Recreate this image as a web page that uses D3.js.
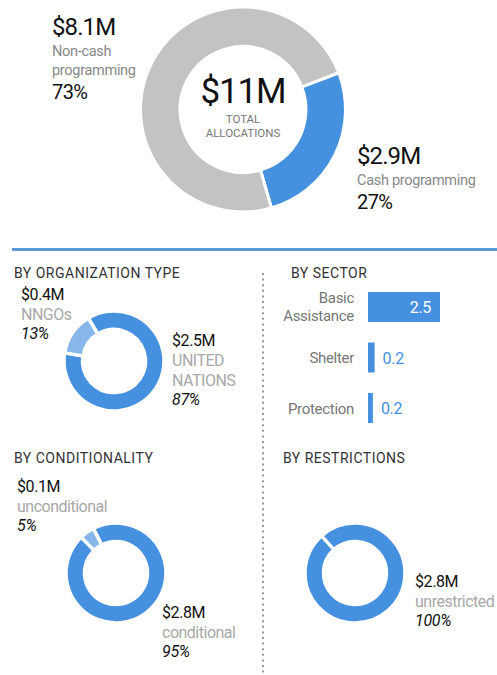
<!DOCTYPE html>
<html>
<head>
<meta charset="utf-8">
<script src="https://cdn.jsdelivr.net/npm/d3@7"></script>
<style>
  body { margin: 0; background: #fff; font-family: Roboto, "Noto Sans", sans-serif; }
  svg text { font-family: Roboto, "Noto Sans", sans-serif; }
</style>
</head>
<body>
<svg id="chart" width="497" height="675"></svg>
<script>
// data
const totalLabel = "$11M";
const cashNames = ["Cash programming", "Non-cash programming"];
const cashValues = [2.9, 8.1];
const cashPct = ["27%", "73%"];

const orgNames = ["UNITED NATIONS", "NNGOs"];
const orgValues = [2.5, 0.4];
const orgPct = ["87%", "13%"];

const sectorNames = ["Basic Assistance", "Shelter", "Protection"];
const sectorValues = [2.5, 0.23, 0.17];

const condNames = ["conditional", "unconditional"];
const condValues = [2.8, 0.14];
const condPct = ["95%", "5%"];

const restrNames = ["unrestricted"];
const restrValues = [2.8];
const restrPct = ["100%"];

const BLUE = "#4590df", LIGHT = "#86b6ea", GREY = "#c3c3c3";
const svg = d3.select("#chart");
const money = v => `$${d3.format(".1f")(v)}M`;
const deg = a => a * Math.PI / 180;

function donut(cx, cy, rOuter, rInner, values, colors, start, sep) {
  const pie = d3.pie().sort(null).startAngle(deg(start)).endAngle(deg(start) + 2 * Math.PI);
  const arc = d3.arc().innerRadius(rInner).outerRadius(rOuter);
  const g = svg.append("g").attr("transform", `translate(${cx},${cy})`);
  g.selectAll("path").data(pie(values)).join("path")
    .attr("d", arc)
    .attr("fill", (d, i) => colors[i])
    .attr("stroke", "#fff")
    .attr("stroke-width", sep);
  if (values.length === 1) {
    // start marker on a full ring
    const a = deg(start);
    g.append("line")
      .attr("x1", Math.sin(a) * (rInner - 1)).attr("y1", -Math.cos(a) * (rInner - 1))
      .attr("x2", Math.sin(a) * (rOuter + 1)).attr("y2", -Math.cos(a) * (rOuter + 1))
      .attr("stroke", "#fff").attr("stroke-width", sep);
  }
}

function label(x, y, lines) {
  const g = svg.append("g");
  lines.forEach(l => {
    g.append("text")
      .attr("x", x).attr("y", y + l.dy)
      .attr("font-size", l.size)
      .attr("fill", l.color)
      .attr("font-style", l.italic ? "italic" : "normal")
      .attr("letter-spacing", l.ls || 0)
      .text(l.text);
  });
}

function smallLabel(x, y, value, nameLines, pct) {
  const lines = [{ text: money(value), size: 16, color: "#111", dy: 0, ls: -0.4 }];
  nameLines.forEach((n, i) => lines.push({ text: n, size: 16, color: "#a8a8a8", dy: 20 * (i + 1), ls: -0.5 }));
  lines.push({ text: pct, size: 16, color: "#111", italic: true, dy: 20 * (nameLines.length + 1) - 1, ls: -0.3 });
  label(x, y, lines);
}

// ---- main donut
donut(243, 109.5, 102.5, 63, cashValues, [BLUE, GREY], 69, 3);

svg.append("text").attr("x", 243).attr("y", 103).attr("text-anchor", "middle")
  .attr("font-size", 35).attr("fill", "#111").attr("letter-spacing", -1.2).text(totalLabel);
svg.append("text").attr("x", 243).attr("y", 123).attr("text-anchor", "middle")
  .attr("font-size", 11.5).attr("fill", "#777").text("TOTAL");
svg.append("text").attr("x", 243).attr("y", 137).attr("text-anchor", "middle")
  .attr("font-size", 11.5).attr("fill", "#777").text("ALLOCATIONS");

label(52, 35, [
  { text: money(cashValues[1]), size: 24, color: "#111", dy: 0, ls: -0.9 },
  { text: "Non-cash", size: 14.5, color: "#888", dy: 21, ls: -0.3 },
  { text: "programming", size: 14.5, color: "#888", dy: 40, ls: -0.3 },
  { text: cashPct[1], size: 20, color: "#111", dy: 64, ls: -0.6 }
]);
label(357, 164, [
  { text: money(cashValues[0]), size: 24, color: "#111", dy: 0, ls: -0.9 },
  { text: cashNames[0], size: 14.5, color: "#888", dy: 21, ls: -0.3 },
  { text: cashPct[0], size: 20, color: "#111", dy: 45, ls: -0.6 }
]);

// separator lines
svg.append("rect").attr("x", 12).attr("y", 248).attr("width", 485).attr("height", 3).attr("fill", "#5a9ad8");
svg.append("line").attr("x1", 263).attr("x2", 263).attr("y1", 273).attr("y2", 675)
  .attr("stroke", "#999").attr("stroke-width", 2).attr("stroke-dasharray", "2,3.6");

// section titles
const titles = [["BY ORGANIZATION TYPE", 14, 278], ["BY SECTOR", 291, 278],
                ["BY CONDITIONALITY", 14, 463], ["BY RESTRICTIONS", 283, 463]];
titles.forEach(t => svg.append("text").attr("x", t[1]).attr("y", t[2])
  .attr("font-size", 14).attr("fill", "#333").attr("letter-spacing", 0.5).text(t[0]));

// ---- organization type
donut(114, 361, 50, 31.5, orgValues, [BLUE, LIGHT], -31, 3.5);
smallLabel(21, 300, orgValues[1], ["NNGOs"], orgPct[1]);
smallLabel(172, 346, orgValues[0], ["UNITED", "NATIONS"], orgPct[0]);

// ---- conditionality
donut(116, 573, 50, 31.5, condValues, [BLUE, LIGHT], -27, 3.5);
smallLabel(17, 492, condValues[1], [condNames[1]], condPct[1]);
smallLabel(162, 618, condValues[0], [condNames[0]], condPct[0]);

// ---- restrictions
donut(355, 573, 50, 31.5, restrValues, [BLUE], -42, 3.5);
smallLabel(415, 587, restrValues[0], [restrNames[0]], restrPct[0]);

// ---- sector bars
const x = d3.scaleLinear().domain([0, 2.5]).range([0, 72]);
const y = d3.scaleBand().domain(sectorNames).range([292, 423]).paddingInner(0.406).paddingOuter(0);
const bx = 368;
const bars = svg.append("g");
bars.selectAll("rect").data(sectorValues).join("rect")
  .attr("x", bx)
  .attr("y", (d, i) => y(sectorNames[i]))
  .attr("width", d => x(d))
  .attr("height", y.bandwidth())
  .attr("fill", BLUE);
bars.selectAll("text.val").data(sectorValues).join("text")
  .attr("class", "val")
  .attr("x", d => x(d) > 30 ? bx + x(d) - 9 : bx + x(d) + 8)
  .attr("y", (d, i) => y(sectorNames[i]) + 21)
  .attr("text-anchor", d => x(d) > 30 ? "end" : "start")
  .attr("font-size", 16)
  .attr("letter-spacing", -0.3)
  .attr("fill", d => x(d) > 30 ? "#fff" : BLUE)
  .text(d => d3.format(".1f")(d));
sectorNames.forEach(n => {
  const words = n === "Basic Assistance" ? ["Basic", "Assistance"] : [n];
  const cy = y(n) + y.bandwidth() / 2;
  words.forEach((w, j) => {
    svg.append("text").attr("x", 354)
      .attr("y", cy + 5.5 + (j - (words.length - 1) / 2) * 18)
      .attr("text-anchor", "end").attr("font-size", 15).attr("fill", "#777")
      .attr("letter-spacing", -0.3)
      .text(w);
  });
});
</script>
</body>
</html>
